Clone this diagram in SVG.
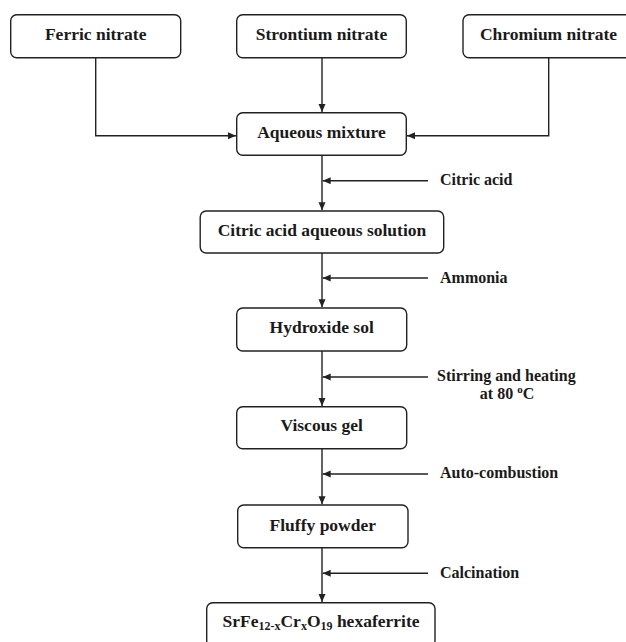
<svg xmlns="http://www.w3.org/2000/svg" width="626" height="642" viewBox="0 0 626 642">
<style>
.box{fill:#fff;stroke:#222;stroke-width:1.4}
.nt{font-family:"Liberation Serif","Times New Roman",serif;font-weight:bold;font-size:17.5px;fill:#1a1a1a;text-anchor:middle}
.lt{font-family:"Liberation Serif","Times New Roman",serif;font-weight:bold;font-size:16px;fill:#1a1a1a}
.ln{fill:none;stroke:#222;stroke-width:1.4}
</style>
<defs>
<marker id="ah" markerWidth="9" markerHeight="8" refX="8" refY="3.5" orient="auto" markerUnits="userSpaceOnUse">
<path d="M0,0 L8,3.5 L0,7 z" fill="#222"/>
</marker>
</defs>
<rect width="626" height="642" fill="#fff"/>
<g id="connectors">
<path class="ln" d="M322,57.7 V112" marker-end="url(#ah)"/>
<path class="ln" d="M95.7,57.7 V135.7 H236" marker-end="url(#ah)"/>
<path class="ln" d="M548.7,57.7 V135.7 H407" marker-end="url(#ah)"/>
<path class="ln" d="M322,155.3 V210.3" marker-end="url(#ah)"/>
<path class="ln" d="M428,180.7 H322.7" marker-end="url(#ah)"/>
<path class="ln" d="M322,253 V307.3" marker-end="url(#ah)"/>
<path class="ln" d="M428,278 H322.7" marker-end="url(#ah)"/>
<path class="ln" d="M322,351 V406" marker-end="url(#ah)"/>
<path class="ln" d="M428,377 H322.7" marker-end="url(#ah)"/>
<path class="ln" d="M322,448.7 V504.3" marker-end="url(#ah)"/>
<path class="ln" d="M428,474 H322.7" marker-end="url(#ah)"/>
<path class="ln" d="M322,547.7 V602" marker-end="url(#ah)"/>
<path class="ln" d="M428,573.3 H322.7" marker-end="url(#ah)"/>
</g>
<g id="ferric"><rect class="box" x="10.7" y="14.7" width="170" height="43" rx="6"/><text class="nt" x="95.7" y="40">Ferric nitrate</text></g>
<g id="strontium"><rect class="box" x="236.7" y="14.7" width="169.6" height="43" rx="6"/><text class="nt" x="321.5" y="40">Strontium nitrate</text></g>
<g id="chromium"><rect class="box" x="463" y="14.7" width="171" height="43" rx="6"/><text class="nt" x="548.5" y="40">Chromium nitrate</text></g>
<g id="aqueous"><rect class="box" x="236.7" y="112.7" width="169.6" height="42.6" rx="6"/><text class="nt" x="321.5" y="137.8">Aqueous mixture</text></g>
<g id="citric-solution"><rect class="box" x="200.2" y="211" width="243.5" height="42" rx="6"/><text class="nt" x="322" y="236">Citric acid aqueous solution</text></g>
<g id="hydroxide"><rect class="box" x="236.7" y="308" width="170" height="43" rx="6"/><text class="nt" x="321.7" y="333">Hydroxide sol</text></g>
<g id="viscous"><rect class="box" x="236.7" y="406.7" width="170" height="42" rx="6"/><text class="nt" x="321.7" y="431">Viscous gel</text></g>
<g id="fluffy"><rect class="box" x="237.7" y="505" width="170.3" height="42.7" rx="6"/><text class="nt" x="322.8" y="530.5">Fluffy powder</text></g>
<g id="final"><rect class="box" x="206.7" y="602.7" width="228.3" height="44" rx="6"/><text class="nt" x="321" y="627">SrFe<tspan font-size="12" dy="3">12-x</tspan><tspan dy="-3">Cr</tspan><tspan font-size="12" dy="3">x</tspan><tspan dy="-3">O</tspan><tspan font-size="12" dy="3">19</tspan><tspan dy="-3"> hexaferrite</tspan></text></g>
<g id="labels">
<text class="lt" x="440" y="184.5">Citric acid</text>
<text class="lt" x="440" y="282.5">Ammonia</text>
<text class="lt" x="437" y="381">Stirring and heating</text>
<text class="lt" x="507" y="398.5" text-anchor="middle">at 80 <tspan font-size="11" dy="-6">o</tspan><tspan dy="6">C</tspan></text>
<text class="lt" x="440" y="478">Auto-combustion</text>
<text class="lt" x="440" y="577.5">Calcination</text>
</g>
</svg>
